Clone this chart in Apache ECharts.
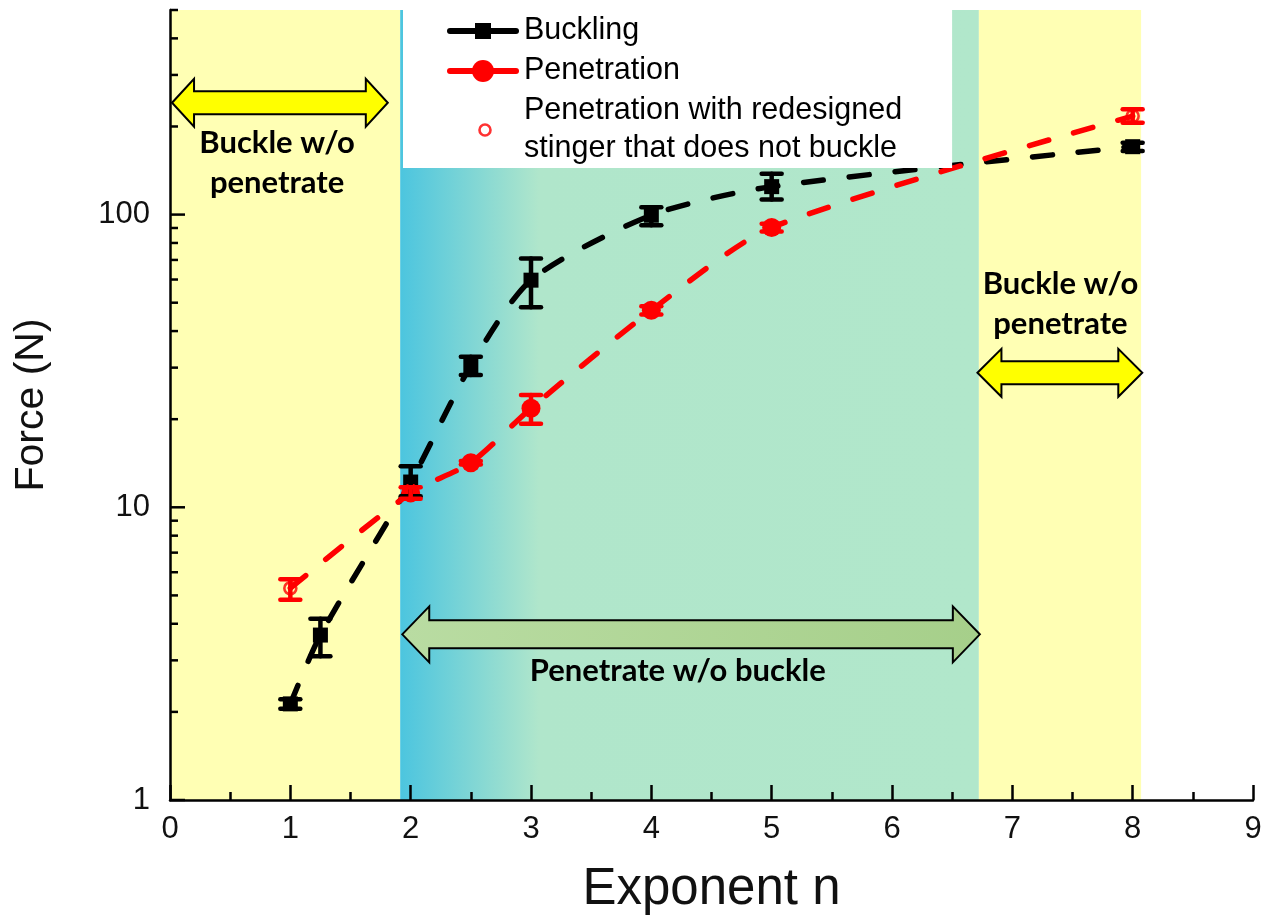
<!DOCTYPE html>
<html><head><meta charset="utf-8">
<script src="https://cdn.jsdelivr.net/npm/echarts@6/dist/echarts.min.js"></script>
<style>html,body{margin:0;padding:0;background:#fff}#c{width:1269px;height:920px}</style>
</head><body><div id="c"></div>
<script>
// ---------------- data ----------------
const bucklingX    = [1, 1.25, 2, 2.5, 3, 4, 5, 8];
const bucklingY    = [2.13, 3.66, 12.2, 30.5, 59.7, 99.5, 124.6, 170.6];
const bucklingLow  = [2.05, 3.10, 10.9, 28.3, 48.2, 91.9, 112.5, 165];
const bucklingHigh = [2.21, 4.16, 13.8, 32.7, 70.8, 106, 138, 176];

const penetrationX    = [2, 2.5, 3, 4, 5];
const penetrationY    = [11.2, 14.2, 21.8, 47.1, 90.3];
const penetrationLow  = [10.7, 14.0, 19.3, 45.6, 87.5];
const penetrationHigh = [11.7, 14.4, 24.2, 48.6, 93];

const redesignX    = [1, 8];
const redesignY    = [5.29, 217];
const redesignLow  = [4.83, 206];
const redesignHigh = [5.68, 229];

const xTickLabels = ['0','1','2','3','4','5','6','7','8','9'];
const yMajorTicks = [1, 10, 100];
const yMinorTicks = [2,3,4,5,6,7,8,9,20,30,40,50,60,70,80,90,200,300,400,500];

// shaded regions (x boundaries): buckle-only | penetrate-only | buckle-only
const regionBounds = [0, 1.913, 6.722, 8.07];

// annotation arrows [xStart, xEnd, yLevel] and labels [x, y]
const arrowPos = [[0.017, 1.81, 241], [6.71, 8.08, 28.8], [1.93, 6.73, 3.68]];
const labelPos = [[0.89, 150.6], [7.40, 49.4], [4.22, 2.75]];
const labelText = ['Buckle w/o\npenetrate', 'Buckle w/o\npenetrate', 'Penetrate w/o buckle'];

// ---------------- chart ----------------
const chart = echarts.init(document.getElementById('c'), null, {renderer: 'canvas'});
const FONT = "'Liberation Sans', Arial, sans-serif";

const zip = (xs, ys) => xs.map((x, i) => [x, ys[i]]);
const zip3 = (xs, a, b) => xs.map((x, i) => [x, a[i], b[i]]);

// combined penetration line: redesigned endpoints joined with the penetration points
const penLine = zip(redesignX, redesignY).map(p => ({value: p, symbol: 'none'}))
  .concat(zip(penetrationX, penetrationY).map(p => ({value: p})))
  .sort((a, b) => a.value[0] - b.value[0]);

function svgIcon(inner) {
  const svg = '<svg xmlns="http://www.w3.org/2000/svg" width="72" height="24" viewBox="0 0 72 24">' + inner + '</svg>';
  return 'image://data:image/svg+xml;base64,' + btoa(svg);
}
const iconBuckling = svgIcon('<line x1="3" y1="12" x2="69" y2="12" stroke="#000" stroke-width="6" stroke-linecap="round"/><rect x="28" y="4" width="16" height="16" fill="#000"/>');
const iconPen = svgIcon('<line x1="3" y1="12" x2="69" y2="12" stroke="#f00" stroke-width="6" stroke-linecap="round"/><circle cx="36" cy="12" r="11" fill="#f00"/>');
const iconRedesign = svgIcon('<circle cx="38" cy="12" r="5.5" fill="#fff" stroke="#f00" stroke-width="2.6"/>');

function errorBarRender(color) {
  return function (params, api) {
    const x = api.value(0), lo = api.value(1), hi = api.value(2);
    const a = api.coord([x, lo]), b = api.coord([x, hi]);
    const w = 10;
    const st = {stroke: color, lineWidth: 4.5, lineCap: 'round'};
    return {type: 'group', children: [
      {type: 'line', shape: {x1: a[0], y1: a[1], x2: b[0], y2: b[1]}, style: st},
      {type: 'line', shape: {x1: a[0] - w, y1: a[1], x2: a[0] + w, y2: a[1]}, style: st},
      {type: 'line', shape: {x1: b[0] - w, y1: b[1], x2: b[0] + w, y2: b[1]}, style: st}
    ]};
  };
}

const arrowStyles = [
  {head: 22, headHalf: 24, shaftHalf: 11.5, fill: '#FFFF00'},
  {head: 24, headHalf: 24, shaftHalf: 11.5, fill: '#FFFF00'},
  {head: 27, headHalf: 28, shaftHalf: 14,
   fill: new echarts.graphic.LinearGradient(0, 0, 1, 0, [{offset: 0, color: '#B9DCA2'}, {offset: 1, color: '#A6CF8A'}])}
];

const mid = new echarts.graphic.LinearGradient(0, 0, 1, 0, [
  {offset: 0, color: '#4CC5DF'}, {offset: 0.24, color: '#B0E6CB'}, {offset: 1, color: '#B1E7CB'}
]);

chart.setOption({
  animation: false,
  backgroundColor: '#fff',
  grid: {left: 170, right: 16, top: 10, bottom: 118, containLabel: false},
  legend: {
    z: 20,
    left: 403, top: 10,
    orient: 'vertical',
    backgroundColor: '#fff',
    padding: [2, 50, 0, 44],
    itemWidth: 72, itemHeight: 24, itemGap: 2,
    textStyle: {fontFamily: FONT, fontSize: 30.5, color: '#000', lineHeight: 38},
    data: [
      {name: 'Buckling', icon: iconBuckling},
      {name: 'Penetration', icon: iconPen},
      {name: 'Penetration with redesigned\nstinger that does not buckle', icon: iconRedesign}
    ],
    selectedMode: false
  },
  xAxis: {
    type: 'value', min: 0, max: 9, interval: 1, z: 10,
    name: 'Exponent n', nameLocation: 'middle', nameGap: 64,
    nameTextStyle: {fontFamily: FONT, fontSize: 51, color: '#111'},
    axisLine: {lineStyle: {color: '#000', width: 2.5}},
    axisTick: {inside: true, length: 15, lineStyle: {color: '#000', width: 2.5}},
    minorTick: {show: true, splitNumber: 2, length: 8, lineStyle: {color: '#000', width: 2.5}},
    splitLine: {show: false},
    axisLabel: {fontFamily: FONT, fontSize: 31, color: '#111', margin: 14,
      formatter: v => xTickLabels[Math.round(v)]}
  },
  yAxis: [{
    type: 'log', logBase: 10, min: 1, max: 500, z: 10,
    name: 'Force (N)', nameLocation: 'middle', nameGap: 118,
    nameTextStyle: {fontFamily: FONT, fontSize: 41, color: '#111'},
    axisLine: {lineStyle: {color: '#000', width: 2.5}},
    axisTick: {show: false},
    splitLine: {show: false},
    axisLabel: {fontFamily: FONT, fontSize: 31, color: '#111', margin: 20, showMaxLabel: false,
      formatter: v => (yMajorTicks.indexOf(Math.round(v)) >= 0 ? String(Math.round(v)) : '')}
  }],
  series: [
    { // shaded regions
      type: 'line', name: 'bg', data: [], z: 0, silent: true,
      markArea: {silent: true, data: [
        [{xAxis: regionBounds[0], itemStyle: {color: '#FFFFB4'}}, {xAxis: regionBounds[1]}],
        [{xAxis: regionBounds[1], itemStyle: {color: mid}}, {xAxis: regionBounds[2]}],
        [{xAxis: regionBounds[2], itemStyle: {color: '#FFFFB4'}}, {xAxis: regionBounds[3]}]
      ]}
    },
    { // y ticks
      type: 'custom', name: 'yticks', z: 9, silent: true,
      data: yMajorTicks.concat(yMinorTicks).map(v => [0, v]),
      renderItem: (params, api) => {
        const v = api.value(1);
        const p = api.coord([0, v]);
        const len = yMajorTicks.indexOf(v) >= 0 ? 15 : 8;
        return {type: 'line', shape: {x1: p[0], y1: p[1], x2: p[0] + len, y2: p[1]},
          style: {stroke: '#000', lineWidth: 2.5}};
      }
    },
    { // arrows
      type: 'custom', name: 'arrows', z: 1, silent: true,
      data: arrowPos,
      renderItem: (params, api) => {
        const s = arrowStyles[params.dataIndex];
        const a = api.coord([api.value(0), api.value(2)]);
        const b = api.coord([api.value(1), api.value(2)]);
        const y = a[1], l = a[0], r = b[0];
        const pts = [[l, y], [l + s.head, y - s.headHalf], [l + s.head, y - s.shaftHalf], [r - s.head, y - s.shaftHalf],
          [r - s.head, y - s.headHalf], [r, y], [r - s.head, y + s.headHalf], [r - s.head, y + s.shaftHalf],
          [l + s.head, y + s.shaftHalf], [l + s.head, y + s.headHalf]];
        return {type: 'polygon', shape: {points: pts}, style: {fill: s.fill, stroke: '#000', lineWidth: 2}};
      }
    },
    { // region labels
      type: 'custom', name: 'labels', z: 1, silent: true,
      data: labelPos,
      renderItem: (params, api) => {
        const p = api.coord([api.value(0), api.value(1)]);
        return {type: 'text', x: p[0], y: p[1], style: {text: labelText[params.dataIndex],
          font: "bold 31px Lato, 'Open Sans', sans-serif", fill: '#000', align: 'center', verticalAlign: 'middle', lineHeight: 40}};
      }
    },
    {
      type: 'line', name: 'Buckling', data: zip(bucklingX, bucklingY), z: 3,
      smooth: 0.25, symbol: 'rect', symbolSize: 15,
      itemStyle: {color: '#000'},
      lineStyle: {color: '#000', width: 5.5, type: [20, 26], cap: 'round'}
    },
    {
      type: 'line', name: 'Penetration', data: penLine, z: 3,
      smooth: 0.25, symbol: 'circle', symbolSize: 19,
      itemStyle: {color: '#FF0000'},
      lineStyle: {color: '#FF0000', width: 5.5, type: [20, 26], cap: 'round'}
    },
    {
      type: 'scatter', name: 'Penetration with redesigned\nstinger that does not buckle',
      data: zip(redesignX, redesignY), z: 5,
      symbol: 'circle', symbolSize: 12,
      itemStyle: {color: 'rgba(255,255,255,0)', borderColor: '#FF0000', borderWidth: 2.6}
    },
    {type: 'custom', name: 'errB', z: 4, silent: true, data: zip3(bucklingX, bucklingLow, bucklingHigh),
      encode: {x: 0, y: [1, 2]}, renderItem: errorBarRender('#000')},
    {type: 'custom', name: 'errP', z: 4, silent: true, data: zip3(penetrationX, penetrationLow, penetrationHigh),
      encode: {x: 0, y: [1, 2]}, renderItem: errorBarRender('#FF0000')},
    {type: 'custom', name: 'errR', z: 4, silent: true, data: zip3(redesignX, redesignLow, redesignHigh),
      encode: {x: 0, y: [1, 2]}, renderItem: errorBarRender('#FF0000')}
  ]
});
</script></body></html>
